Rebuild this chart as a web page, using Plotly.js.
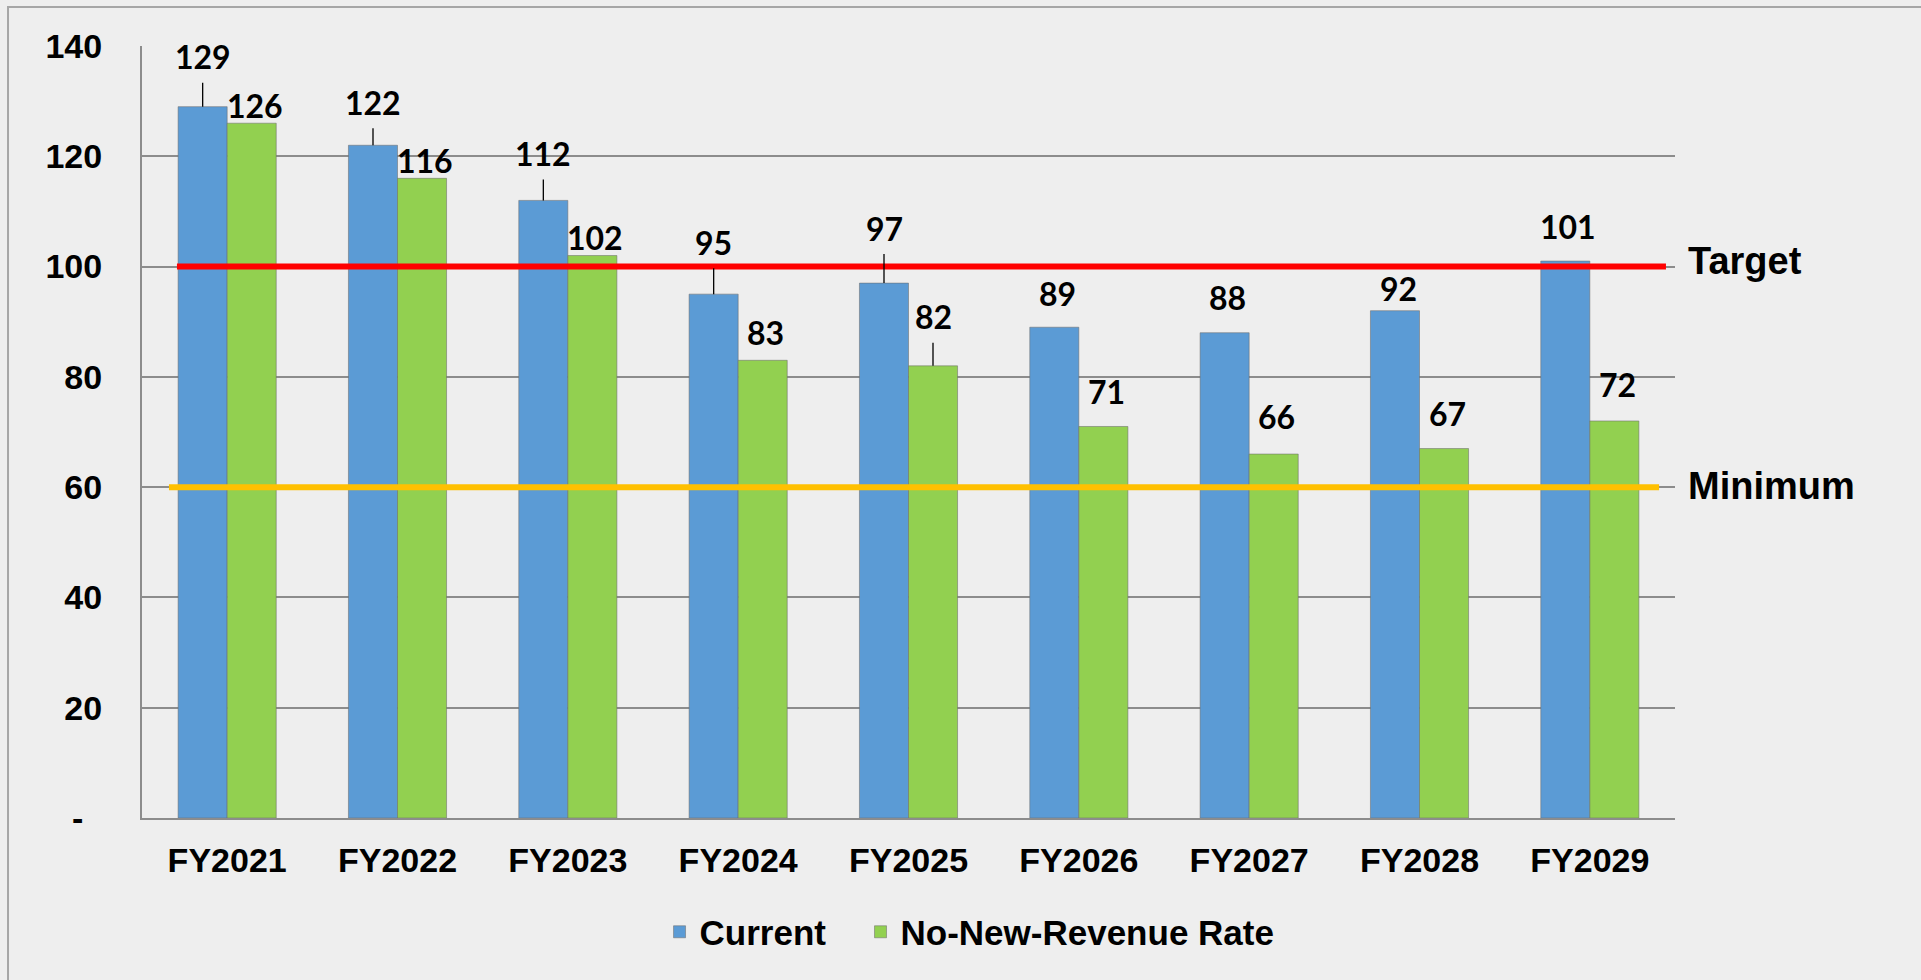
<!DOCTYPE html>
<html>
<head>
<meta charset="utf-8">
<script src="https://cdn.plot.ly/plotly-3.0.1.min.js"></script>
<style>
  html, body { margin: 0; padding: 0; background: #eeeeee; }
  #chart { width: 1921px; height: 980px; }
</style>
</head>
<body>
<div id="chart"></div>
<script>
// ---- data ----
const categories = ["FY2021", "FY2022", "FY2023", "FY2024", "FY2025", "FY2026", "FY2027", "FY2028", "FY2029"];
const currentValues = [129, 122, 112, 95, 97, 89, 88, 92, 101];
const noNewRevenueValues = [126, 116, 102, 83, 82, 71, 66, 67, 72];
const targetValue = 100;
const minimumValue = 60;
const yTickValues = [0, 20, 40, 60, 80, 100, 120, 140];
const yTickLabels = ["-\u00a0\u00a0", "20", "40", "60", "80", "100", "120", "140"];
const seriesNames = ["Current", "No-New-Revenue Rate"];

// ---- manual data-label placement (pixels above bar top) ----
const blueLabelLift = [50, 43, 47, 52, 55, 34, 35, 22, 35];
const greenLabelLift = [18, 18, 18, 28, 49, 35, 38, 35, 36];
const blueLeader = [true, true, true, true, true, false, false, false, false];
const greenLeader = [false, false, false, false, true, false, false, false, false];

const BLUE = "#5B9BD5", GREEN = "#92D050";
const halfBar = 24.5;
const labelFont = { family: "Lato, 'Open Sans', sans-serif", size: 32, color: "#000", weight: 700 };
const axisFont = { family: "'Liberation Sans', Arial, sans-serif", size: 34, color: "#000", weight: 700 };
const legendFont = { family: "'Liberation Sans', Arial, sans-serif", size: 35, color: "#000", weight: 700 };

const traces = [
  { type: "bar", name: seriesNames[0], x: categories, y: currentValues, legend: "legend",
    marker: { color: BLUE, line: { color: "rgba(110,110,110,0.55)", width: 1 } }, hoverinfo: "x+y" },
  { type: "bar", name: seriesNames[1], x: categories, y: noNewRevenueValues, legend: "legend2",
    marker: { color: GREEN, line: { color: "rgba(110,110,110,0.55)", width: 1 } }, hoverinfo: "x+y" }
];

function makeLabels(values, lift, leader, side) {
  return values.map((v, i) => {
    const a = { x: categories[i], y: v, xref: "x", yref: "y", text: String(v),
      font: labelFont, xshift: side * halfBar };
    if (leader[i]) {
      Object.assign(a, { showarrow: true, arrowhead: 0, arrowwidth: 1.3, arrowcolor: "#000",
        ax: 0, ay: -lift[i], borderpad: 6, standoff: 0 });
    } else {
      Object.assign(a, { showarrow: false, yshift: lift[i], xshift: side * halfBar + 3 });
    }
    return a;
  });
}

const annotations = [
  ...makeLabels(currentValues, blueLabelLift, blueLeader, -1),
  ...makeLabels(noNewRevenueValues, greenLabelLift, greenLeader, 1),
  { xref: "paper", yref: "y", x: 1.0072, y: targetValue, xanchor: "left", yanchor: "middle",
    text: "Target", showarrow: false, yshift: 6,
    font: { family: "'Liberation Sans', Arial, sans-serif", size: 38, color: "#000", weight: 700 } },
  { xref: "paper", yref: "y", x: 1.0072, y: minimumValue, xanchor: "left", yanchor: "middle",
    text: "Minimum", showarrow: false, yshift: 1,
    font: { family: "'Liberation Sans', Arial, sans-serif", size: 38, color: "#000", weight: 700 } }
];

const shapes = [
  { type: "rect", xref: "paper", yref: "paper", x0: -0.0874, x1: 1.17, y0: -0.215, y1: 1.0505,
    line: { color: "#a6a6a6", width: 2 }, fillcolor: "rgba(0,0,0,0)", layer: "below" },
  { type: "line", xref: "paper", yref: "y", x0: 0.0228, x1: 0.9941, y0: targetValue, y1: targetValue,
    line: { color: "#FF0000", width: 6 }, layer: "above" },
  { type: "line", xref: "paper", yref: "y", x0: 0.0176, x1: 0.9896, y0: minimumValue, y1: minimumValue,
    line: { color: "#FFC000", width: 6 }, layer: "above" }
];

const layout = {
  width: 1921, height: 980,
  margin: { l: 142, r: 246, t: 46, b: 162, pad: 0 },
  paper_bgcolor: "#eeeeee",
  plot_bgcolor: "rgba(0,0,0,0)",
  barmode: "group", bargap: 0.424, bargroupgap: 0,
  showlegend: true,
  legend: { orientation: "h", x: 0.3376, xanchor: "left", y: -0.1477, yanchor: "middle",
    font: legendFont, bgcolor: "rgba(0,0,0,0)" },
  legend2: { orientation: "h", x: 0.4687, xanchor: "left", y: -0.1477, yanchor: "middle",
    font: legendFont, bgcolor: "rgba(0,0,0,0)" },
  xaxis: { type: "category", showline: true, linecolor: "#8c8c8c", linewidth: 2,
    ticks: "outside", ticklen: 11, tickcolor: "rgba(0,0,0,0)", tickfont: axisFont,
    showgrid: false, zeroline: false, fixedrange: true },
  yaxis: { range: [0, 140], tickvals: yTickValues, ticktext: yTickLabels,
    showgrid: true, gridcolor: "#8c8c8c", gridwidth: 2,
    showline: true, linecolor: "#8c8c8c", linewidth: 2,
    ticks: "outside", ticklen: 31, tickcolor: "rgba(0,0,0,0)", tickfont: axisFont,
    zeroline: false, fixedrange: true },
  annotations: annotations,
  shapes: shapes,
  font: { family: "'Liberation Sans', Arial, sans-serif" }
};

Plotly.newPlot("chart", traces, layout, { displayModeBar: false, staticPlot: true });
</script>
</body>
</html>
